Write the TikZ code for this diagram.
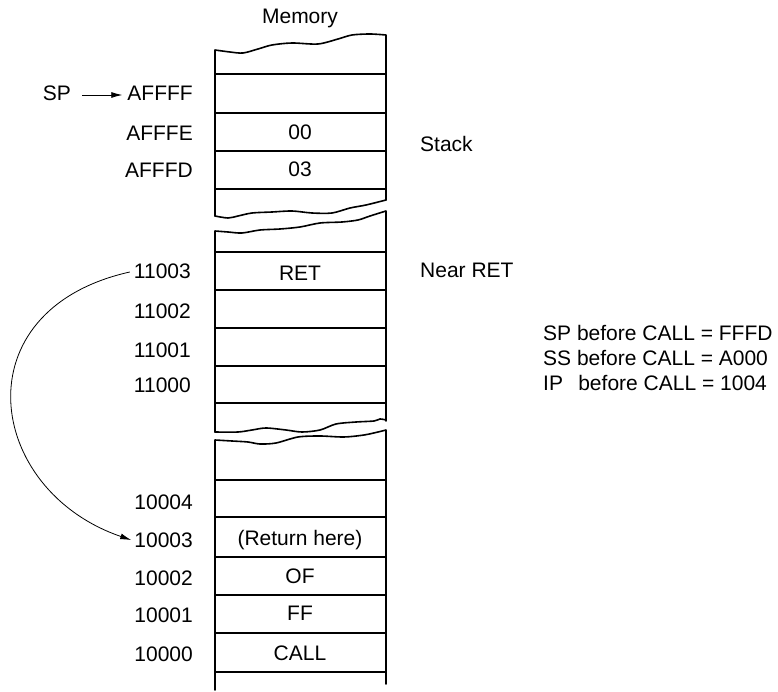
\documentclass[tikz,border=0pt]{standalone}
\usepackage{fontspec}
\setmainfont{Liberation Sans}
\usetikzlibrary{arrows.meta}

\tikzset{
  wall/.style={line width=1.6pt, line join=round, line cap=round},
  addr/.style={anchor=base east, inner sep=0pt},
  cell/.style={anchor=base, inner sep=0pt},
  note/.style={anchor=base west, inner sep=0pt},
  link/.style={line width=0.8pt, -{Latex[length=11pt,width=6pt]}},
}

\begin{document}
\begin{tikzpicture}[x=1pt,y=-1pt,font=\fontsize{21}{25}\selectfont]
\useasboundingbox (0,0) rectangle (778,692);

\node[cell] (mem) at (300,24) {Memory};

% top block (stack area)
\draw[wall] (215,216) -- plot[smooth] coordinates {(215,50) (230,52) (243,53) (258,49) (272,45) (292,43) (318,44) (338,39) (352,35) (370,34) (386,35)} -- (386,200);
\draw[wall] plot[smooth] coordinates {(215,216) (228,218) (238,216) (252,213) (272,212) (292,211) (312,213) (332,213) (350,208) (366,205) (386,200)};
\foreach \y in {74,113,151,189}
  \draw[wall] (215,\y) -- (386,\y);

% middle block (code near RET)
\draw[wall] (215,432) -- plot[smooth] coordinates {(215,231) (228,232) (242,233) (260,230) (280,229) (300,227) (320,223) (342,222) (358,220) (370,216) (386,211)} -- (386,421);
\draw[wall] plot[smooth] coordinates {(215,432) (238,432) (252,430) (266,428) (286,430) (302,432) (320,430) (336,424) (356,422) (374,421) (380,419) (386,420)};
\foreach \y in {252,290,328,366,403}
  \draw[wall] (215,\y) -- (386,\y);

% bottom block (CALL)
\draw[wall] (215,690) -- plot[smooth] coordinates {(215,440) (232,441) (248,442) (260,444) (276,443) (298,437) (320,436) (344,437) (364,435) (378,432) (386,430)} -- (386,684);
\foreach \y in {480,517,557,595,633,672}
  \draw[wall] (215,\y) -- (386,\y);

% addresses
\node[addr] (aff) at (193,101) {AFFFF};
\node[addr] (afe) at (193,141) {AFFFE};
\node[addr] (afd) at (193,178) {AFFFD};
\node[addr] (a3) at (191,279) {11003};
\node[addr] (a2) at (191,318) {11002};
\node[addr] (a1) at (191,357) {11001};
\node[addr] (a0) at (191,392) {11000};
\node[addr] (b4) at (193,509) {10004};
\node[addr] (b3) at (193,547) {10003};
\node[addr] (b2) at (193,585) {10002};
\node[addr] (b1) at (193,622) {10001};
\node[addr] (b0) at (193,661) {10000};

% contents
\node[cell] (v00) at (300,140) {00};
\node[cell] (v03) at (300,177) {03};
\node[cell] (ret) at (300,280) {RET};
\node[cell] (back) at (300,545) {(Return here)};
\node[cell] (vof) at (300,583) {OF};
\node[cell] (vff) at (300,620) {FF};
\node[cell] (call) at (300,660) {CALL};

% notes
\node[note] (stack) at (420,152) {Stack};
\node[note] (near) at (420,278) {Near RET};
\node[note, align=left] (regs) at (543,390) {SP before CALL = FFFD\\SS before CALL = A000\\IP\hspace{0.45em} before CALL = 1004};

% pointers
\node[anchor=base east, inner sep=0pt] (sp) at (71,101) {SP};
\draw[link] ([xshift=11pt,yshift=6pt]sp.base east) -- ([xshift=-5pt,yshift=6pt]aff.base west);
\draw[link] ([xshift=-4pt,yshift=7pt]a3.base west) .. controls (-40,310) and (-15,490) .. ([xshift=-3pt,yshift=7pt]b3.base west);
\end{tikzpicture}
\end{document}
